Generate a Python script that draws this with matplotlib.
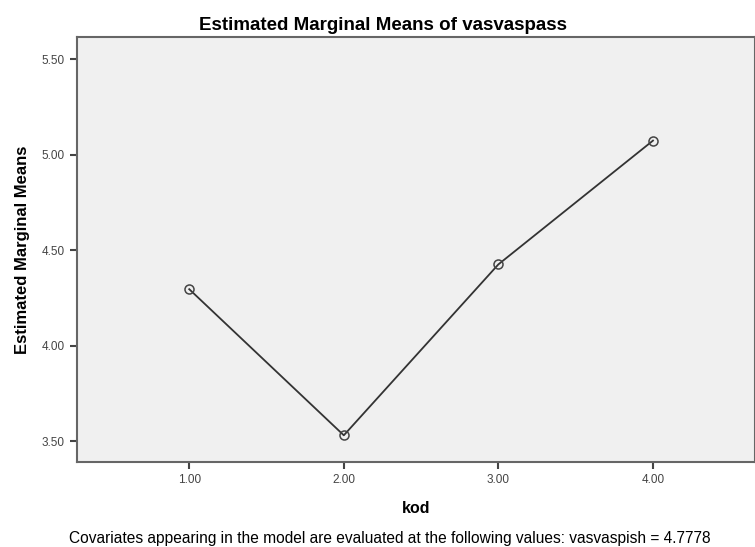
import matplotlib
matplotlib.use("Agg")
import matplotlib.pyplot as plt

plt.rcParams['font.family'] = ['Liberation Sans', 'DejaVu Sans']

# estimated marginal means per level of kod
kod = [1.0, 2.0, 3.0, 4.0]
means = [4.295, 3.530, 4.425, 5.073]
yticks = [3.50, 4.00, 4.50, 5.00, 5.50]

fig = plt.figure(figsize=(7.55, 5.47), dpi=100)
ax = fig.add_axes([0.102, 0.156, 0.898, 0.7755])
ax.set_facecolor('#f0f0f0')

ax.plot(kod, means, color='#333333', lw=1.3, marker='o', markersize=6.5,
        markerfacecolor='none', markeredgecolor='#444444', markeredgewidth=1.1)

ax.set_xlim(0.274, 4.66)
ax.set_ylim(3.392, 5.613)
ax.set_xticks(kod)
ax.set_xticklabels(['%.2f' % v for v in kod])
ax.set_yticks(yticks)
ax.set_yticklabels(['%.2f' % v for v in yticks])
ax.tick_params(direction='out', length=5, width=1.5, color='#444444',
               labelsize=8.5, labelcolor='#444444', pad=4)

for s in ax.spines.values():
    s.set_color('#666666')
    s.set_linewidth(1.5)

ax.set_xlabel('kod', fontsize=11.5, fontweight='bold', labelpad=11)
ax.set_ylabel('Estimated Marginal Means', fontsize=12, fontweight='bold')
ax.yaxis.set_label_coords(-0.07, 0.5)

fig.text(383 / 755, 1 - 25 / 547, 'Estimated Marginal Means of vasvaspass',
         ha='center', va='center', fontsize=13.5, fontweight='bold')
fig.text(390 / 755, 1 - 539 / 547,
         'Covariates appearing in the model are evaluated at the following values: vasvaspish = 4.7778',
         ha='center', va='center', fontsize=11.2)

fig.savefig('out.png', dpi=100)
